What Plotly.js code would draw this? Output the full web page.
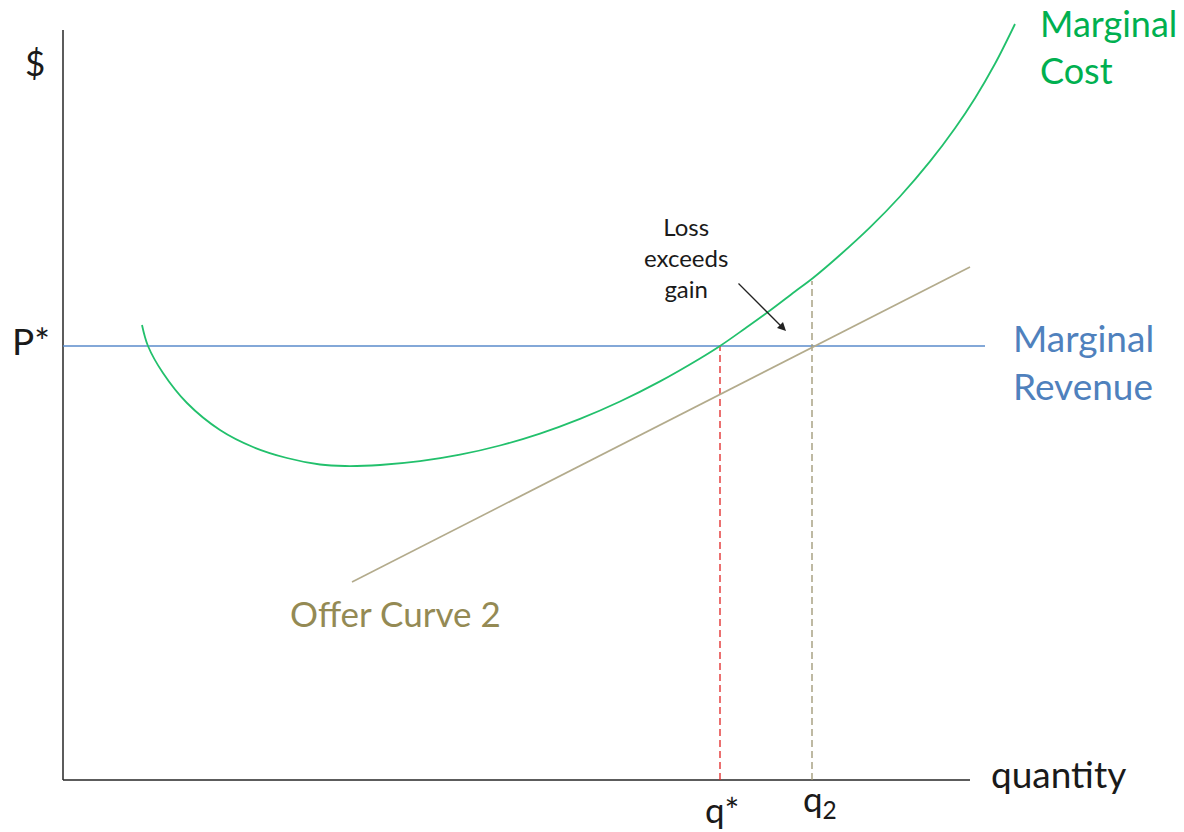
<!DOCTYPE html>
<html>
<head>
<meta charset="utf-8">
<script src="https://cdn.plot.ly/plotly-3.0.1.min.js"></script>
<style>html,body{margin:0;padding:0;background:#fff;}#chart{width:1184px;height:832px;}</style>
</head>
<body>
<div id="chart"></div>
<script>
// Marginal cost curve (quantity, $)
const mcQ = [7.9, 8.5, 10.0, 12.4, 15.7, 19.0, 22.4, 25.7, 28.2, 31.7, 35.7, 39.7, 43.7, 47.7, 51.7, 55.7, 59.7, 63.7, 65.7, 68.2, 70.7, 73.2, 75.0, 77.7, 80.7, 83.7, 86.7, 89.2, 91.2, 93.2, 95.2];
const mcP = [45.5, 43.4, 40.7, 37.7, 35.0, 33.3, 32.2, 31.55, 31.4, 31.5, 31.88, 32.53, 33.45, 34.64, 36.11, 37.85, 39.86, 42.15, 43.4, 45.15, 46.95, 48.85, 50.2, 52.5, 55.26, 58.35, 61.86, 65.18, 68.18, 71.62, 75.6];
// Offer curve 2
const offerQ = [28.9, 90.7];
const offerP = [19.8, 51.3];
// Marginal revenue (price P*)
const pStar = 43.4;
const mrQ = [0, 92.2];
// Quantities
const qStar = 65.7;
const q2 = 74.9;
const mcAtQ2 = 49.9;
// Axis extents
const xAxisEnd = 90.7;
const yAxisEnd = 75.0;
// Arrow (Loss exceeds gain)
const arrowFrom = [67.4, 49.8];
const arrowTo = [72.3, 44.9];

const FONT = 'Lato, "Open Sans", sans-serif';

const traces = [
  {x: [0, 0], y: [0, yAxisEnd], mode: 'lines', line: {color: '#262626', width: 1.5}, hoverinfo: 'skip'},
  {x: [0, xAxisEnd], y: [0, 0], mode: 'lines', line: {color: '#262626', width: 1.5}, hoverinfo: 'skip'},
  {x: mrQ, y: [pStar, pStar], mode: 'lines', line: {color: '#5a8bcb', width: 1.3}, hoverinfo: 'skip'},
  {x: [qStar, qStar], y: [0, pStar], mode: 'lines', line: {color: '#e02424', width: 1.3, dash: '7px,4px'}, hoverinfo: 'skip'},
  {x: [q2, q2], y: [0, mcAtQ2], mode: 'lines', line: {color: '#9c9472', width: 1.3, dash: '7px,4px'}, hoverinfo: 'skip'},
  {x: offerQ, y: offerP, mode: 'lines', line: {color: '#b3ab8c', width: 1.6}, hoverinfo: 'skip'},
  {x: mcQ, y: mcP, mode: 'lines', line: {color: '#22c06c', width: 1.8, shape: 'spline', smoothing: 1}, hoverinfo: 'skip'}
];

const labelText = ['$', 'P*', 'q*', 'q<sub>2</sub>', 'quantity', 'Marginal<br>Cost', 'Marginal<br>Revenue', 'Offer Curve 2', 'Loss<br>exceeds<br>gain'];

const annotations = [
  {x: -2.8, y: 71.8, text: labelText[0], font: {size: 35, color: '#1a1a1a', family: FONT}},
  {x: -3.2, y: 44.0, text: labelText[1], font: {size: 37, color: '#1a1a1a', family: FONT}},
  {x: 65.9, y: -2.9, text: labelText[2], font: {size: 35, color: '#1a1a1a', family: FONT}},
  {x: 75.7, y: -2.0, text: labelText[3], font: {size: 35, color: '#1a1a1a', family: FONT}},
  {x: 92.6, y: 0.7, text: labelText[4], xanchor: 'left', font: {size: 37, color: '#1a1a1a', family: FONT}},
  {x: 97.5, y: 73.4, text: labelText[5], xanchor: 'left', align: 'left', font: {size: 36, color: '#00b050', family: FONT}},
  {x: 94.8, y: 41.9, text: labelText[6], xanchor: 'left', align: 'left', font: {size: 37, color: '#4f81bd', family: FONT}},
  {x: 33.2, y: 16.7, text: labelText[7], font: {size: 35, color: '#948a54', family: FONT}},
  {x: 62.3, y: 52.3, text: labelText[8], align: 'center', font: {size: 24, color: '#1a1a1a', family: FONT}},
  {x: arrowTo[0], y: arrowTo[1], ax: arrowFrom[0], ay: arrowFrom[1], axref: 'x', ayref: 'y', text: '', showarrow: true, arrowhead: 2, arrowsize: 1.3, arrowwidth: 1.3, arrowcolor: '#222', standoff: 0}
].map(a => Object.assign({xref: 'x', yref: 'y', showarrow: false}, a));

const layout = {
  width: 1184, height: 832,
  margin: {l: 0, r: 0, t: 0, b: 0},
  paper_bgcolor: '#fff', plot_bgcolor: '#fff',
  showlegend: false,
  xaxis: {range: [-6.3, 112.1], visible: false, fixedrange: true},
  yaxis: {range: [-5.2, 78], visible: false, fixedrange: true},
  annotations: annotations
};

Plotly.newPlot('chart', traces, layout, {displayModeBar: false, staticPlot: true});
</script>
</body>
</html>
